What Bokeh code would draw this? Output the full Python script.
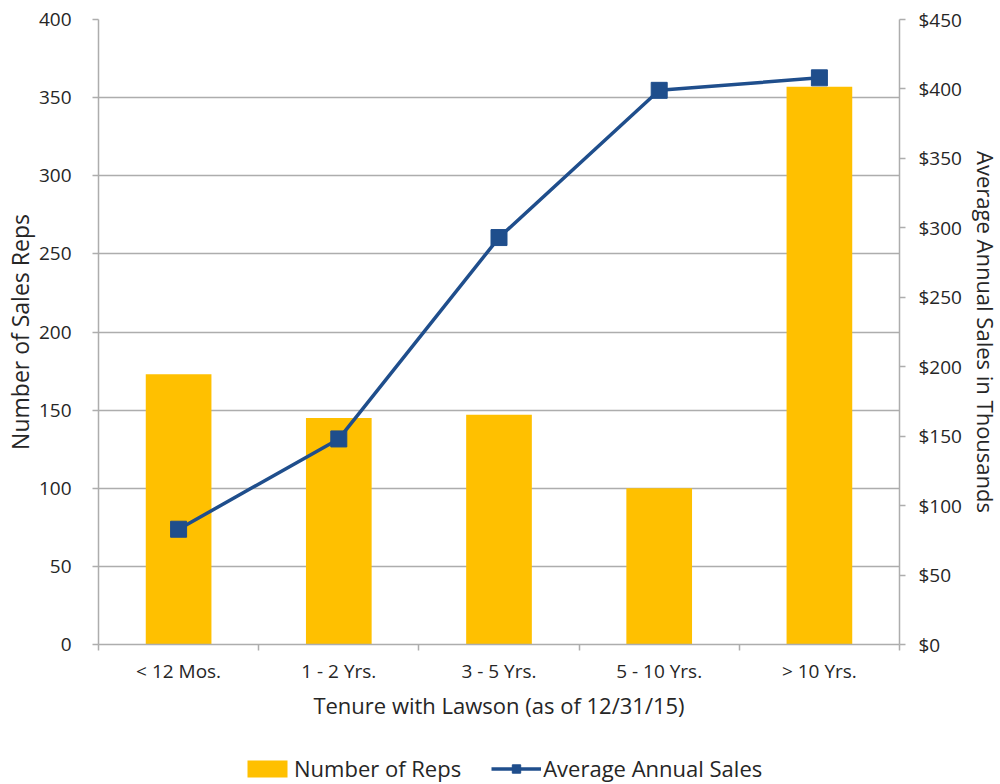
from bokeh.plotting import figure
from bokeh.layouts import column
from bokeh.models import (Range1d, LinearAxis, FixedTicker, NumeralTickFormatter,
                          Legend, LegendItem)
from bokeh.embed import file_html
from bokeh.resources import INLINE

categories = ["< 12 Mos.", "1 - 2 Yrs.", "3 - 5 Yrs.", "5 - 10 Yrs.", "> 10 Yrs."]
num_reps = [173, 145, 147, 100, 357]
avg_sales = [83, 148, 293, 399, 408]
left_ticks = [0, 50, 100, 150, 200, 250, 300, 350, 400]
right_ticks = [0, 50, 100, 150, 200, 250, 300, 350, 400, 450]
series_names = ["Number of Reps", "Average Annual Sales"]

FONT = "Open Sans"
TXT = "#262626"
GRID = "#ADADAD"
BAR = "#FFC000"
LINE = "#1F4E8C"

xs = [i + 0.5 for i in range(len(categories))]
bounds = [i for i in range(len(categories) + 1)]

p = figure(frame_width=801, frame_height=625, output_backend="svg", toolbar_location=None,
           x_range=Range1d(0, len(categories)), y_range=Range1d(0, 400),
           min_border_left=97, min_border_right=103, min_border_top=19,
           min_border_bottom=96)
p.outline_line_color = None
p.background_fill_color = "white"
p.border_fill_color = "white"

p.extra_y_ranges = {"sales": Range1d(0, 450)}

p.vbar(x=xs, top=num_reps, width=0.41, fill_color=BAR, line_color=None)
p.line(x=xs, y=avg_sales, y_range_name="sales", line_color=LINE, line_width=3.5)
p.scatter(x=xs, y=avg_sales, y_range_name="sales", marker="square", size=16,
          fill_color=LINE, line_color=LINE)

# grid
p.xgrid.visible = False
p.ygrid.ticker = FixedTicker(ticks=left_ticks)
p.ygrid.grid_line_color = GRID
p.ygrid.grid_line_width = 1.5

# x axis
xa = p.xaxis[0]
xa.ticker = FixedTicker(ticks=xs, minor_ticks=bounds)
xa.major_label_overrides = {x: c for x, c in zip(xs, categories)}
xa.major_tick_line_color = None
xa.major_tick_out = 6
xa.minor_tick_out = 6
xa.minor_tick_in = 0
xa.minor_tick_line_color = GRID
xa.minor_tick_line_width = 1.5
xa.axis_line_color = GRID
xa.axis_line_width = 1.5
xa.major_label_standoff = 7
xa.major_label_text_font = FONT
xa.major_label_text_font_size = "19px"
xa.major_label_text_color = TXT
xa.axis_label = "Tenure with Lawson (as of 12/31/15)"
xa.axis_label_text_font = FONT
xa.axis_label_text_font_size = "22px"
xa.axis_label_text_font_style = "normal"
xa.axis_label_text_color = TXT
xa.axis_label_standoff = 3

# left y axis
ya = p.yaxis[0]
ya.ticker = FixedTicker(ticks=left_ticks)
ya.axis_line_color = GRID
ya.axis_line_width = 1.5
ya.major_tick_line_color = GRID
ya.major_tick_line_width = 1.5
ya.major_tick_in = 0
ya.major_tick_out = 6
ya.minor_tick_line_color = None
ya.major_label_standoff = 21
ya.major_label_text_font = FONT
ya.major_label_text_font_size = "19px"
ya.major_label_text_color = TXT
ya.axis_label = "Number of Sales Reps"
ya.axis_label_text_font = FONT
ya.axis_label_text_font_size = "23px"
ya.axis_label_text_font_style = "normal"
ya.axis_label_text_color = TXT
ya.axis_label_standoff = 0

# right y axis
ra = LinearAxis(y_range_name="sales", ticker=FixedTicker(ticks=right_ticks),
                formatter=NumeralTickFormatter(format="$0"))
ra.axis_line_color = GRID
ra.axis_line_width = 1.5
ra.major_tick_line_color = GRID
ra.major_tick_line_width = 1.5
ra.major_tick_in = 0
ra.major_tick_out = 6
ra.minor_tick_line_color = None
ra.major_label_standoff = 13
ra.major_label_text_font = FONT
ra.major_label_text_font_size = "19px"
ra.major_label_text_color = TXT
ra.axis_label = "Average Annual Sales in Thousands"
ra.axis_label_text_font = FONT
ra.axis_label_text_font_size = "22px"
ra.axis_label_text_font_style = "normal"
ra.axis_label_text_color = TXT
ra.axis_label_standoff = 6
p.add_layout(ra, "right")

# legend strip below the chart (its data ranges are scrolled away from the
# series so that only the legend itself shows)
lg = figure(width=1000, height=44, output_backend="svg", toolbar_location=None,
            x_range=Range1d(100, 101), y_range=Range1d(1000, 1001),
            x_axis_location=None, y_axis_location=None,
            min_border=0, min_border_left=0, min_border_right=0,
            min_border_top=0, min_border_bottom=0)
lg.grid.visible = False
lg.outline_line_color = None
lg.background_fill_color = "white"
lg.border_fill_color = "white"
lb = lg.vbar(x=xs, top=num_reps, width=0.41, fill_color=BAR, line_color=None)
ll = lg.line(x=xs, y=avg_sales, line_color=LINE, line_width=3.5)
ls = lg.scatter(x=xs, y=avg_sales, marker="square", size=16,
                fill_color=LINE, line_color=LINE)

legend = Legend(items=[LegendItem(label=series_names[0], renderers=[lb]),
                       LegendItem(label=series_names[1], renderers=[ll, ls])],
                orientation="horizontal", location=(144, 1))
legend.border_line_color = None
legend.background_fill_alpha = 0
legend.glyph_width = 50
legend.glyph_height = 21
legend.label_standoff = 2
legend.spacing = 30
legend.label_text_font = FONT
legend.label_text_font_size = "22px"
legend.label_text_color = TXT
legend.margin = 0
legend.padding = 0
lg.add_layout(legend, "center")

layout = column(p, lg, spacing=0)
open("out.html", "w").write(file_html(layout, INLINE))
